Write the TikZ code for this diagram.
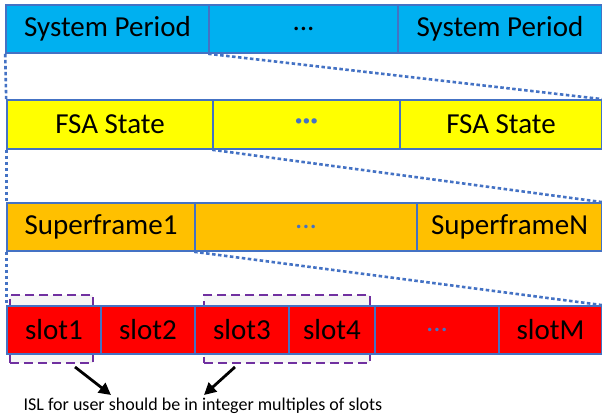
\documentclass[tikz,border=0pt]{standalone}
\usepackage{fontspec}
\setmainfont{Carlito}
\usetikzlibrary{arrows.meta}
\definecolor{bordc}{HTML}{4472C4}
\definecolor{spblue}{HTML}{00B0F0}
\definecolor{fsayel}{HTML}{FFFF00}
\definecolor{sforange}{HTML}{FFC000}
\definecolor{slotred}{HTML}{FF0000}
\definecolor{isl}{HTML}{7030A0}
\begin{document}
\begin{tikzpicture}[x=1pt,y=-1pt,
  cell/.style={draw=bordc,line width=1.6pt,inner sep=0pt,minimum height=48pt,font=\fontsize{29}{32}\selectfont,text=black},
  zoomline/.style={draw=bordc,line width=2.6pt,dash pattern=on 3.5pt off 2.5pt},
  islbox/.style={draw=isl,line width=1.6pt,dash pattern=on 9pt off 5pt,fill=gray!8},
  pointer/.style={draw=black,line width=2.8pt,-{Triangle[length=12pt,width=12pt]}}]
\useasboundingbox (0,0) rectangle (602,420);
% row 1
\node[cell,fill=spblue,minimum width=203pt] (a1) at (107.5,29) {System Period};
\node[cell,fill=spblue,minimum width=189pt] (a2) at (303.5,29) {...};
\node[cell,fill=spblue,minimum width=204pt] (a3) at (500,29) {System Period};
% row 2
\node[cell,fill=fsayel,minimum width=206pt,minimum height=49pt] (b1) at (110,124.5) {FSA State};
\node[cell,fill=fsayel,minimum width=187pt,minimum height=49pt,text=bordc,font=\fontsize{29}{32}\selectfont\bfseries] (b2) at (306.5,124.5) {···};
\node[cell,fill=fsayel,minimum width=202pt,minimum height=49pt] (b3) at (501,124.5) {FSA State};
% row 3
\node[cell,fill=sforange,minimum width=188pt] (c1) at (101,227) {Superframe1};
\node[cell,fill=sforange,minimum width=222pt,text=bordc] (c2) at (306,227) {...};
\node[cell,fill=sforange,minimum width=185pt] (c3) at (509.5,227) {SuperframeN};
% ISL boxes (behind slots)
\node[islbox,inner sep=0pt,minimum width=83pt,minimum height=68pt] (p1) at (51.5,329) {};
\node[islbox,inner sep=0pt,minimum width=166pt,minimum height=68pt] (p2) at (287,329) {};
% row 4
\node[cell,fill=slotred,minimum width=94pt] (d1) at (54,330) {slot1};
\node[cell,fill=slotred,minimum width=94pt] (d2) at (148,330) {slot2};
\node[cell,fill=slotred,minimum width=94pt] (d3) at (242,330) {slot3};
\node[cell,fill=slotred,minimum width=86pt] (d4) at (332,330) {slot4};
\node[cell,fill=slotred,minimum width=124pt,text=bordc] (d5) at (437,330) {...};
\node[cell,fill=slotred,minimum width=103pt] (d6) at (550.5,330) {slotM};
% zoom lines
\draw[zoomline] (a1.south west) -- (b1.north west);
\draw[zoomline] (b1.south west) -- (c1.north west);
\draw[zoomline] (c1.south west) -- (d1.north west);
\draw[zoomline] (a2.south west) -- (b3.north east);
\draw[zoomline] (b2.south west) -- (c3.north east);
\draw[zoomline] (c2.south west) -- (d6.north east);
% note
\node[font=\fontsize{18}{20}\selectfont,inner sep=0pt] (note) at (203,406) {ISL for user should be in integer multiples of slots};
\coordinate (s1) at (75,367);
\coordinate (e1) at (111,395);
\coordinate (s2) at (235,367);
\coordinate (e2) at (204,395);
\draw[pointer] (s1) -- (e1);
\draw[pointer] (s2) -- (e2);
\end{tikzpicture}
\end{document}
